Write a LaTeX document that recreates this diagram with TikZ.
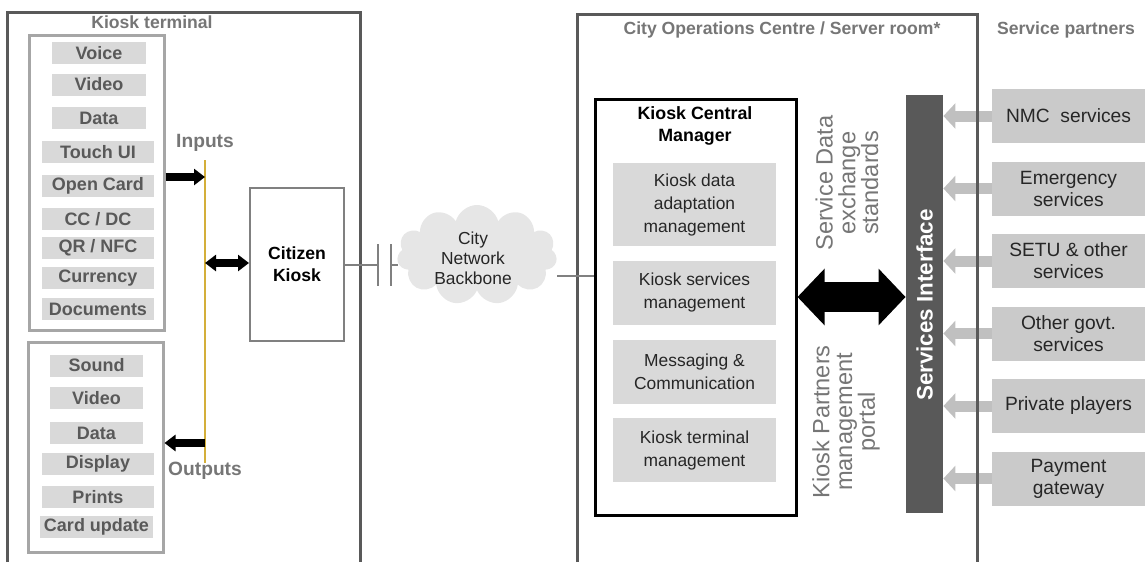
\documentclass[tikz,border=0pt]{standalone}
\usepackage{fontspec}
\setmainfont{Liberation Sans}
\usepackage{xcolor}
\usetikzlibrary{positioning, arrows.meta, shapes.symbols}

\definecolor{framegray}{HTML}{595959}
\definecolor{groupgray}{HTML}{A6A6A6}
\definecolor{itemfill}{HTML}{D9D9D9}
\definecolor{itemtext}{HTML}{595959}
\definecolor{headgray}{HTML}{767676}
\definecolor{partnerfill}{HTML}{CACACA}
\definecolor{partnerarrow}{HTML}{C0C0C0}
\definecolor{cloudfill}{HTML}{E6E6E6}
\definecolor{busyellow}{HTML}{D4AF3A}
\definecolor{darktext}{HTML}{262626}

\tikzset{
  frameline/.style={draw=framegray, line width=1.5pt},
  groupbox/.style={draw=groupgray, line width=1.5pt, inner sep=0pt},
  ioitem/.style={fill=itemfill, text=itemtext, font=\bfseries\fontsize{9}{10}\selectfont, minimum height=11pt, inner sep=0pt},
  headlabel/.style={text=headgray, font=\bfseries\fontsize{8.8}{10}\selectfont},
  mgrbox/.style={fill=itemfill, text=darktext, font=\fontsize{8.7}{11.5}\selectfont, minimum width=81.5pt, align=center, inner sep=0pt},
  partnerbox/.style={fill=partnerfill, text=darktext, font=\fontsize{9.6}{11}\selectfont, minimum width=76.5pt, minimum height=27pt, align=center, inner sep=0pt},
  sidelabel/.style={rotate=90, text=headgray, font=\fontsize{11.8}{11.4}\selectfont, align=center},
  wire/.style={draw=gray, line width=0.7pt},
  blackarrow/.style={line width=4pt, -{Triangle[length=5.5pt, width=8pt]}},
  partnerlink/.style={draw=partnerarrow, line width=5.5pt, -{Triangle[length=6pt, width=12.5pt]}}
}

\begin{document}
\begin{tikzpicture}[x=0.5pt, y=-0.5pt, node distance=9pt]
  \useasboundingbox (0,0) rectangle (1145,562);

  % Kiosk terminal side
  \draw[frameline] (7,562) |- (360,12) -- (360,562);
  \node[headlabel] (kt) at (152,22) {Kiosk terminal};

  \node[groupbox, minimum width=67.5pt, minimum height=147.5pt] (inbox) at (96.5,182.5) {};
  \node[ioitem, minimum width=47pt] (voice) at (99,53) {Voice};
  \node[ioitem, minimum width=47pt] (videoin) at (99,84.5) {Video};
  \node[ioitem, minimum width=47pt] (datain) at (99,118) {Data};
  \node[ioitem, minimum width=56pt] (touch) at (98,152) {Touch UI};
  \node[ioitem, minimum width=56pt] (opencard) at (98,186) {Open Card};
  \node[ioitem, minimum width=56pt] (ccdc) at (98,219) {CC / DC};
  \node[ioitem, minimum width=56pt] (qrnfc) at (98,248) {QR / NFC};
  \node[ioitem, minimum width=56pt] (currency) at (98,278) {Currency};
  \node[ioitem, minimum width=56pt] (docs) at (98,309) {Documents};

  \node[groupbox, minimum width=67.5pt, minimum height=105pt] (outbox) at (95.5,447) {};
  \node[ioitem, minimum width=46.5pt] (sound) at (96.5,365.5) {Sound};
  \node[ioitem, minimum width=46.5pt] (videoout) at (96.5,398) {Video};
  \node[ioitem, minimum width=46.5pt] (dataout) at (96.5,433) {Data};
  \node[ioitem, minimum width=56pt] (display) at (98,464) {Display};
  \node[ioitem, minimum width=56pt] (prints) at (98,497) {Prints};
  \node[ioitem, minimum width=56.5pt] (cardupd) at (96.5,527) {Card update};

  % input / output bus
  \coordinate (busT) at (205,160);
  \coordinate (busB) at (205,463);
  \draw[draw=busyellow, line width=0.8pt] (busT) -- (busB);
  \node[headlabel, font=\bfseries\fontsize{9.6}{10}\selectfont] (inlbl) at (205,143) {Inputs};
  \node[headlabel, font=\bfseries\fontsize{9.6}{10}\selectfont] (outlbl) at (205,471) {Outputs};

  \node[draw=gray, line width=1pt, minimum width=47pt, minimum height=76.5pt, align=center,
        font=\bfseries\fontsize{8.8}{11}\selectfont] (ck) at (297,264.5) {Citizen\\Kiosk};

  \draw[blackarrow] (inbox.east |- 0,177) -- (busT |- 0,177);
  \draw[blackarrow] (busB |- 0,443) -- (outbox.east |- 0,443);
  \draw[blackarrow, {Triangle[length=5.5pt, width=8pt]}-{Triangle[length=5.5pt, width=8pt]}] (busT |- 0,263) -- (ck.west |- 0,263);

  % network backbone
  \node[cloud, cloud puffs=11, cloud ignores aspect, fill=cloudfill, minimum width=80pt, minimum height=50pt] (cloud) at (477,255) {};
  \node[text=darktext, align=center, font=\fontsize{8.7}{10}\selectfont] (cloudtxt) at (473,258) {City\\Network\\Backbone};

  \coordinate (capL) at (378,265);
  \coordinate (capR) at (391,265);
  \draw[wire] (ck.east |- capL) -- (capL);
  \draw[wire] ([yshift=10.5pt]capL) -- ([yshift=-10.5pt]capL);
  \draw[wire] ([yshift=10.5pt]capR) -- ([yshift=-10.5pt]capR);
  \draw[wire] (capR) -- (capR -| cloud.west);

  % service partners
  \node[headlabel] (sp) at (1066,30) {Service partners};
  \node[partnerbox] (nmc) at (1068.5,116) {NMC\ \ services};
  \node[partnerbox, below=8.85pt of nmc] (emerg) {Emergency\\services};
  \node[partnerbox, below=8.85pt of emerg] (setu) {SETU \& other\\services};
  \node[partnerbox, below=8.85pt of setu] (govt) {Other govt.\\services};
  \node[partnerbox, below=8.85pt of govt] (priv) {Private players};
  \node[partnerbox, below=8.85pt of priv] (pay) {Payment\\gateway};

  \node[fill=framegray, minimum width=18.5pt, minimum height=209pt, inner sep=0pt] (bar) at (924.5,304) {};
  \node[rotate=90, text=white, font=\bfseries\fontsize{11.2}{12}\selectfont] (barlbl) at (924.5,305) {Services Interface};

  \draw[partnerlink] (nmc.west) -- (bar.east |- nmc.west);
  \draw[partnerlink] (emerg.west) -- (bar.east |- emerg.west);
  \draw[partnerlink] (setu.west) -- (bar.east |- setu.west);
  \draw[partnerlink] (govt.west) -- (bar.east |- govt.west);
  \draw[partnerlink] (priv.west) -- (bar.east |- priv.west);
  \draw[partnerlink] (pay.west) -- (bar.east |- pay.west);

  % city operations centre
  \draw[frameline] (577,562) |- (977,14) -- (977,562);
  \node[headlabel] (coc) at (782,30) {City Operations Centre / Server room*};

  \node[draw=black, line width=1.5pt, minimum width=100.5pt, minimum height=208pt, inner sep=0pt] (kcm) at (695.5,307) {};
  \node[align=center, font=\bfseries\fontsize{8.9}{11}\selectfont] (kcmtitle) at (695,126) {Kiosk Central\\Manager};
  \node[mgrbox, minimum height=41.5pt] (adapt) at (694.5,204.5) {Kiosk data\\adaptation\\management};
  \node[mgrbox, minimum height=32pt, below=7pt of adapt] (svcmgmt) {Kiosk services\\management};
  \node[mgrbox, minimum height=32pt, below=7pt of svcmgmt] (msg) {Messaging \&\\Communication};
  \node[mgrbox, minimum height=32pt, below=7pt of msg] (termmgmt) {Kiosk terminal\\management};

  \coordinate (bbR) at (557,276);
  \draw[wire] (bbR) -- (bbR -| kcm.west);

  \coordinate (link) at (850,297);
  \draw[line width=15pt, {Triangle[length=13.5pt, width=27.5pt]}-{Triangle[length=13.5pt, width=27.5pt]}] (kcm.east |- link) -- (bar.west |- link);

  \node[sidelabel] (sdx) at (847,183) {Service Data\\exchange\\standards};
  \node[sidelabel] (kpm) at (846,422) {Kiosk Partners\\management\\portal};
\end{tikzpicture}
\end{document}
